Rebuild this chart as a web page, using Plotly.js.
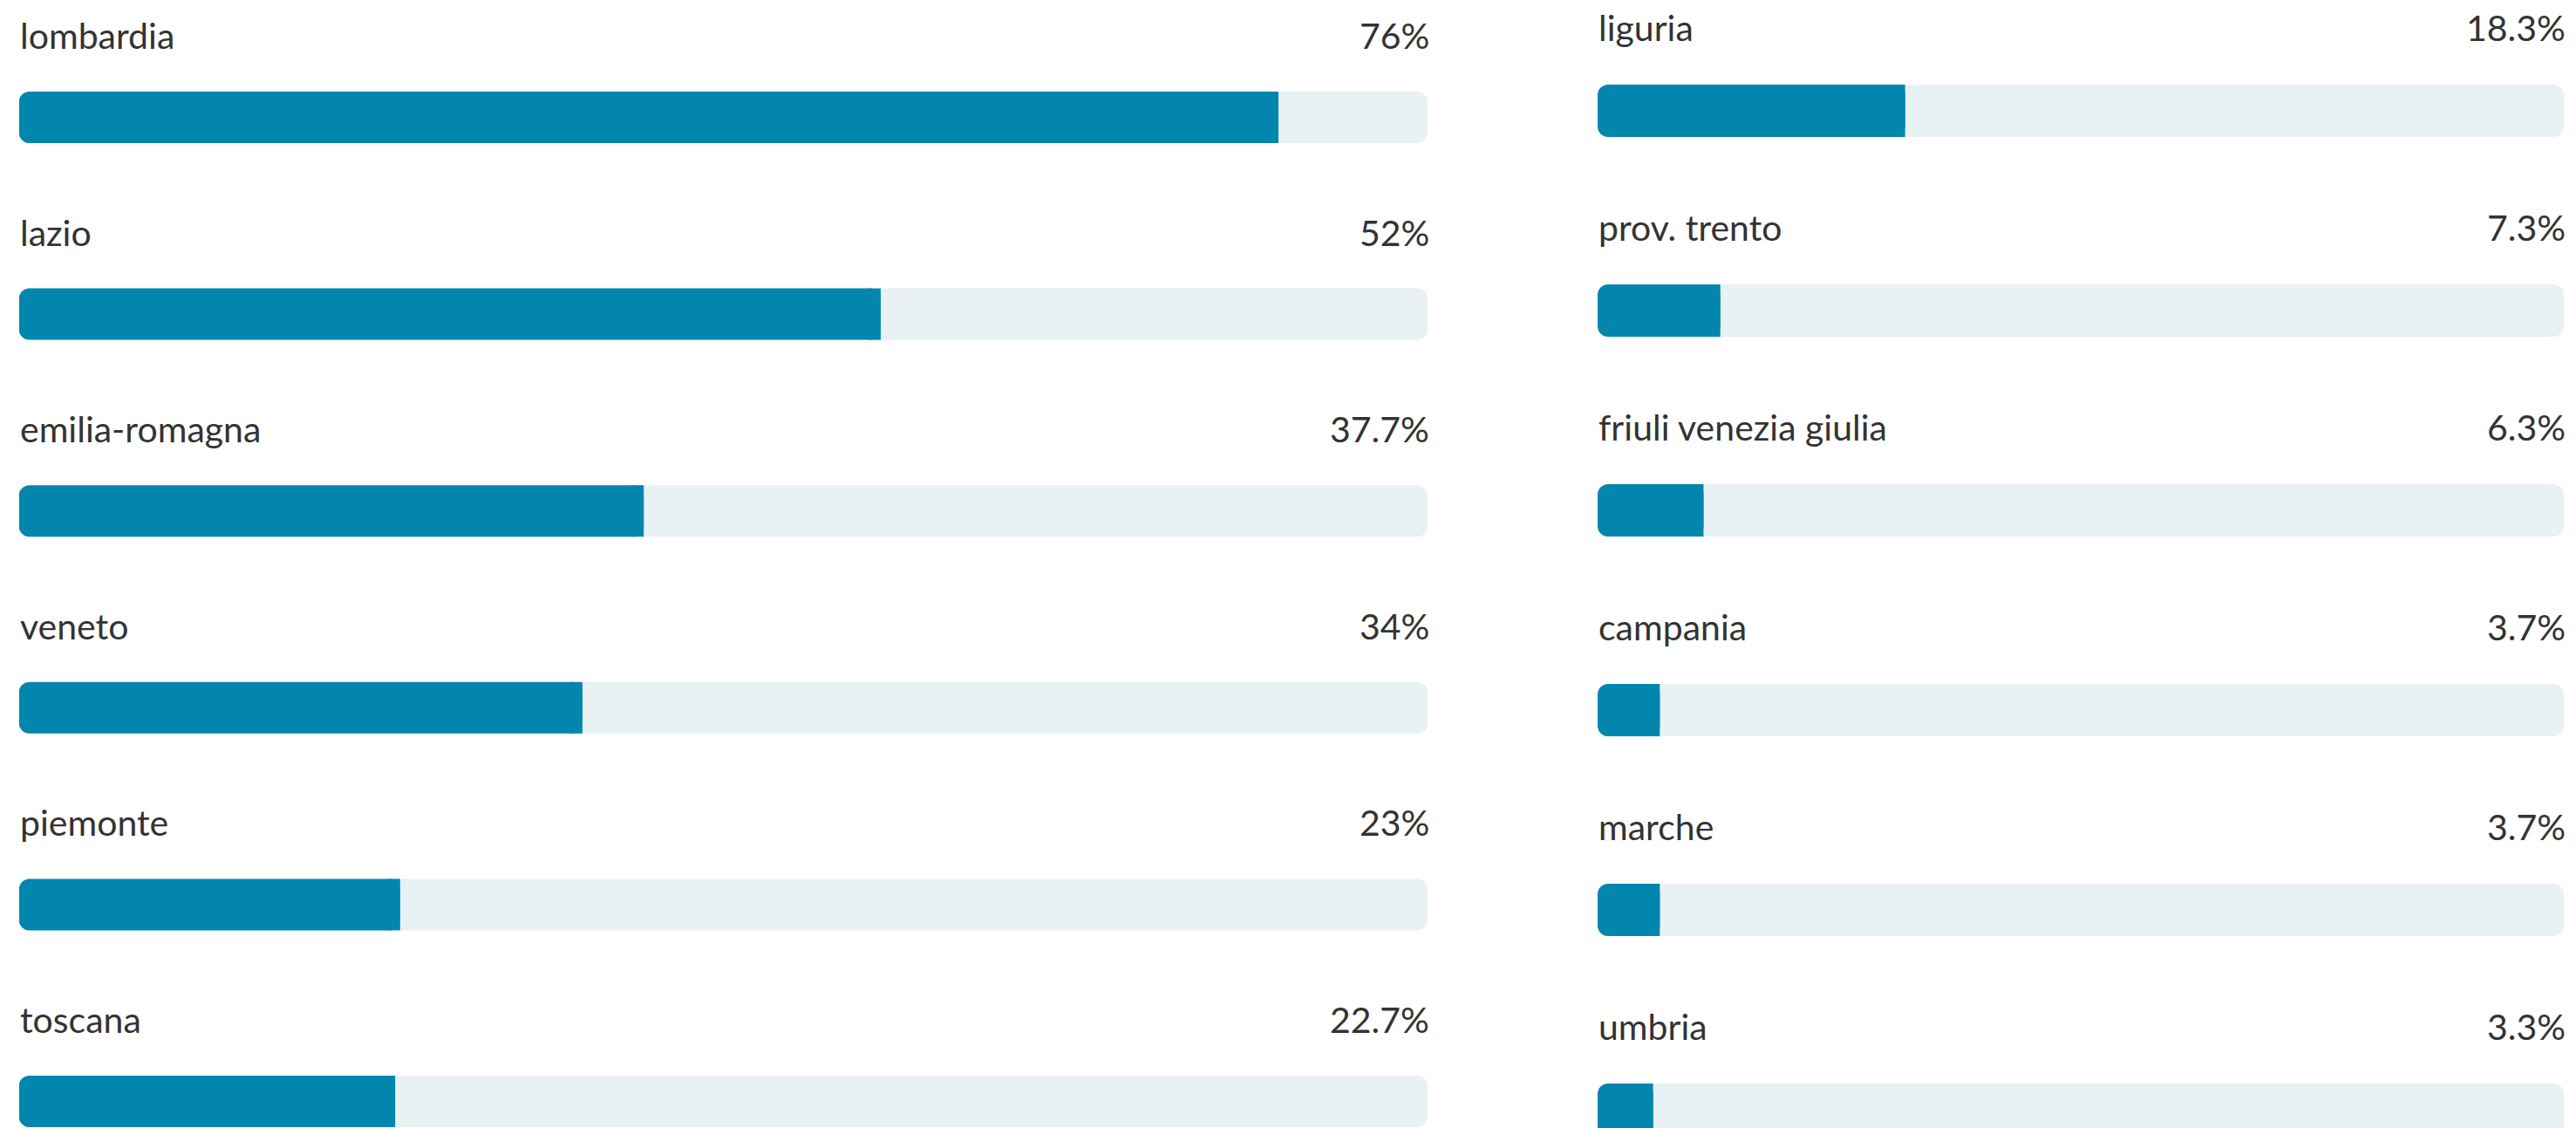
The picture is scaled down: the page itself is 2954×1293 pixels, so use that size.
<!DOCTYPE html>
<html>
<head>
<meta charset="utf-8">
<script src="https://cdn.plot.ly/plotly-3.0.1.min.js"></script>
<style>html,body{margin:0;padding:0;background:#ffffff;overflow:hidden}</style>
</head>
<body>
<div id="chart" style="width:2954px;height:1293px"></div>
<script>
// ---- data ----
const leftRegions  = ['lombardia', 'lazio', 'emilia-romagna', 'veneto', 'piemonte', 'toscana'];
const leftValues   = [76, 52, 37.7, 34, 23, 22.7];
const rightRegions = ['liguria', 'prov. trento', 'friuli venezia giulia', 'campania', 'marche', 'umbria'];
const rightValues  = [18.3, 7.3, 6.3, 3.7, 3.7, 3.3];
// full-track value of each panel (bar lengths are relative to it)
const leftScaleMax  = 85;
const rightScaleMax = 57.5;

// ---- styling ----
const W = 2954, H = 1293;
const FILL = '#0386AE';
const TRACK = '#E8F1F4';
const TEXT = '#333333';
const FONT = 'Lato, "Open Sans", sans-serif';
const FSIZE = 41;
const RADIUS = 12;
const leftDomain = [0.00735, 0.5542];
const rightDomain = [0.6202, 0.99526];

function panelTraces(regions, values, maxVal, domain, xa, ya, barWidth) {
  // width (in axis units) of the square cap that hides the rounding at the value end
  const capUnits = (RADIUS + 2) * maxVal / (W * (domain[1] - domain[0]));
  const common = {type: 'bar', orientation: 'h', y: regions, xaxis: xa, yaxis: ya,
    width: barWidth, hoverinfo: 'skip', showlegend: false};
  return [
    // background track, rounded at both ends
    Object.assign({}, common, {x: regions.map(() => maxVal), base: regions.map(() => 0),
      marker: {color: TRACK, cornerradius: RADIUS, line: {width: 0}}}),
    // value bar, rounded
    Object.assign({}, common, {x: values, base: values.map(() => 0),
      marker: {color: FILL, cornerradius: RADIUS, line: {width: 0}}}),
    // small square cap at the value end (keeps that end square)
    Object.assign({}, common, {x: values.map(() => capUnits), base: values.map(v => v - capUnits),
      marker: {color: FILL, cornerradius: 0.01, line: {width: 0}}})
  ];
}

function panelAnnotations(regions, values, xa, ya, labelShift) {
  const out = [];
  regions.forEach((r, i) => {
    out.push({xref: xa + ' domain', yref: ya, x: 0, y: r, xanchor: 'left', yanchor: 'middle',
      xshift: -1, yshift: labelShift, showarrow: false, text: r,
      font: {family: FONT, size: FSIZE, color: TEXT}});
    out.push({xref: xa + ' domain', yref: ya, x: 1, y: r, xanchor: 'right', yanchor: 'middle',
      xshift: 4, yshift: labelShift, showarrow: false, text: values[i] + '%',
      font: {family: FONT, size: FSIZE, color: TEXT}});
  });
  return out;
}

const data = [].concat(
  panelTraces(leftRegions, leftValues, leftScaleMax, leftDomain, 'x', 'y', 0.2615),
  panelTraces(rightRegions, rightValues, rightScaleMax, rightDomain, 'x2', 'y2', 0.262)
);

const axisBase = {showgrid: false, zeroline: false, showticklabels: false, showline: false,
  ticks: '', fixedrange: true};

const layout = {
  width: W, height: H,
  margin: {l: 0, r: 0, t: 0, b: 0, pad: 0},
  paper_bgcolor: '#ffffff', plot_bgcolor: '#ffffff',
  barmode: 'overlay',
  showlegend: false,
  xaxis: Object.assign({}, axisBase, {domain: leftDomain, range: [0, leftScaleMax], anchor: 'y'}),
  yaxis: Object.assign({}, axisBase, {domain: [0, 1], type: 'category', categoryorder: 'array',
    categoryarray: leftRegions, range: [5.1352, -0.5962], anchor: 'x'}),
  xaxis2: Object.assign({}, axisBase, {domain: rightDomain, range: [0, rightScaleMax], anchor: 'y2'}),
  yaxis2: Object.assign({}, axisBase, {domain: [0, 1], type: 'category', categoryorder: 'array',
    categoryarray: rightRegions, range: [5.0917, -0.5546], anchor: 'x2'}),
  annotations: [].concat(
    panelAnnotations(leftRegions, leftValues, 'x', 'y', 94),
    panelAnnotations(rightRegions, rightValues, 'x2', 'y2', 96)
  )
};

Plotly.newPlot('chart', data, layout, {displayModeBar: false, staticPlot: true});
</script>
</body>
</html>
